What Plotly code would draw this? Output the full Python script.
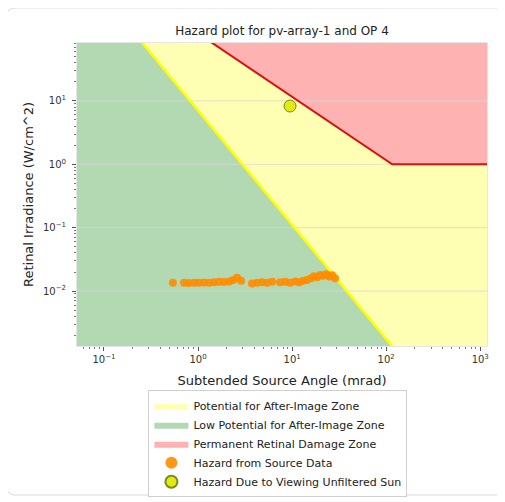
import plotly.graph_objects as go

# ---------------- data ----------------
# threshold curves (retinal irradiance W/cm^2 vs subtended angle mrad)
afterimage_x = [0.05, 1200]
afterimage_y = [1560, 2.0e-5]
burn_x = [0.05, 116, 1200]
burn_y = [2320, 1.0, 1.0]
floor_y = 1e-6
ceil_y = 1e5

# hazard from source data
src_x = [0.54, 0.71, 0.80, 0.91, 1.02, 1.16, 1.31, 1.48, 1.67, 1.89, 2.14, 2.36, 2.60, 2.87,
         3.75, 4.24, 4.80, 5.42, 6.12,
         7.45, 8.43, 9.52, 10.8, 11.9, 13.1, 14.4, 15.9, 17.1, 18.5, 19.9, 21.4, 23.0, 24.8, 26.7, 28.6]
src_y = [0.0136, 0.0135, 0.0134, 0.0136, 0.0135, 0.0137, 0.0136, 0.0138, 0.0140, 0.0139, 0.0142, 0.0150, 0.0162, 0.0146,
         0.0132, 0.0135, 0.0138, 0.0136, 0.0140,
         0.0138, 0.0140, 0.0136, 0.0142, 0.0138, 0.0145, 0.0150, 0.0160, 0.0172, 0.0165, 0.0180, 0.0175, 0.0185, 0.0170, 0.0178, 0.0160]

# unfiltered sun
sun_x = [9.5]
sun_y = [8.3]

x_tickvals = [0.1, 1, 10, 100, 1000]
x_ticktext = ["10<sup>−1</sup>", "10<sup>0</sup>", "10<sup>1</sup>", "10<sup>2</sup>", "10<sup>3</sup>"]
y_tickvals = [0.01, 0.1, 1, 10]
y_ticktext = ["10<sup>−2</sup>", "10<sup>−1</sup>", "10<sup>0</sup>", "10<sup>1</sup>"]
minor_mult = [2, 3, 4, 5, 6, 7, 8, 9]
x_minor = [m * d for d in [0.01, 0.1, 1, 10, 100, 1000] for m in minor_mult]
y_minor = [m * d for d in [0.001, 0.01, 0.1, 1, 10] for m in minor_mult]

x_range = [0.0516, 1180]
y_range = [0.00136, 82]

FONT = "DejaVu Sans"

fig = go.Figure()

# zones
yellow_poly_x = afterimage_x + burn_x[::-1] + [afterimage_x[0]]
yellow_poly_y = afterimage_y + burn_y[::-1] + [afterimage_y[0]]
fig.add_trace(go.Scatter(x=yellow_poly_x, y=yellow_poly_y, fill="toself", mode="lines",
                         line=dict(width=0), fillcolor="#FFFFB3",
                         name="Potential for After-Image Zone", hoverinfo="skip"))
green_poly_x = afterimage_x + [afterimage_x[-1], afterimage_x[0], afterimage_x[0]]
green_poly_y = afterimage_y + [floor_y, floor_y, afterimage_y[0]]
fig.add_trace(go.Scatter(x=green_poly_x, y=green_poly_y, fill="toself", mode="lines",
                         line=dict(width=0), fillcolor="#B3D9B3",
                         name="Low Potential for After-Image Zone", hoverinfo="skip"))
red_poly_x = burn_x + [burn_x[-1], burn_x[0], burn_x[0]]
red_poly_y = burn_y + [ceil_y, ceil_y, burn_y[0]]
fig.add_trace(go.Scatter(x=red_poly_x, y=red_poly_y, fill="toself", mode="lines",
                         line=dict(width=0), fillcolor="#FFB2B2",
                         name="Permanent Retinal Damage Zone", hoverinfo="skip"))

# grid lines above fills
gx, gy = [], []
for g in y_tickvals:
    gx += [x_range[0], x_range[1], None]
    gy += [g, g, None]
fig.add_trace(go.Scatter(x=gx, y=gy, mode="lines", line=dict(color="rgba(215,215,215,0.75)", width=1),
                         showlegend=False, hoverinfo="skip"))

# threshold lines
fig.add_trace(go.Scatter(x=afterimage_x, y=afterimage_y, mode="lines",
                         line=dict(color="#FFFF00", width=2.5), showlegend=False, hoverinfo="skip"))
fig.add_trace(go.Scatter(x=burn_x, y=burn_y, mode="lines",
                         line=dict(color="#D81010", width=2), showlegend=False, hoverinfo="skip"))

# data
fig.add_trace(go.Scatter(x=src_x, y=src_y, mode="markers",
                         marker=dict(color="#FF8C00", size=8, opacity=0.9, line=dict(width=0)),
                         name="Hazard from Source Data"))
fig.add_trace(go.Scatter(x=sun_x, y=sun_y, mode="markers",
                         marker=dict(color="#E2EA10", size=12, line=dict(color="#7A8A20", width=1)),
                         name="Hazard Due to Viewing Unfiltered Sun"))

axis_common = dict(type="log", automargin=False,
                   ticks="outside", ticklen=4, tickcolor="#555", tickfont=dict(size=10, color="#333"),
                   showline=True, linecolor="#e6e6e6", mirror=True, zeroline=False, showgrid=False)

fig.update_xaxes(range=[-1.287, 3.072], tickvals=x_tickvals, ticktext=x_ticktext,
                 minor=dict(tickvals=x_minor, ticks="outside", ticklen=2, tickcolor="#777", showgrid=False),
                 title=dict(text="Subtended Source Angle (mrad)", font=dict(size=13, color="#222"), standoff=11),
                 **axis_common)
fig.update_yaxes(range=[-2.866, 1.913], tickvals=y_tickvals, ticktext=y_ticktext,
                 minor=dict(tickvals=y_minor, ticks="outside", ticklen=2, tickcolor="#777", showgrid=False),
                 ticklabelstandoff=4,
                 title=dict(text="Retinal Irradiance (W/cm^2)", font=dict(size=13, color="#222"), standoff=6),
                 **axis_common)

# card frame
x0, x1 = -0.1707, 1.1
yt, yb = 1.1155, -0.4917
rx, ry = 0.0195, 0.0264
path = (f"M {x0+rx},{yt} L {x1},{yt} L {x1},{yb} L {x0+rx},{yb} "
        f"Q {x0},{yb} {x0},{yb+ry} L {x0},{yt-ry} Q {x0},{yt} {x0+rx},{yt} Z")
fig.add_shape(type="path", path=path, xref="paper", yref="paper",
              line=dict(color="#d9d9d9", width=1), layer="below")

fig.update_layout(
    width=497, height=494,
    margin=dict(l=69, r=18, t=35, b=156, autoexpand=False),
    paper_bgcolor="white", plot_bgcolor="white",
    font=dict(family=FONT, color="#222"),
    title=dict(text="Hazard plot for pv-array-1 and OP 4", x=(69 + 205) / 497, xanchor="center",
               y=1 - 23 / 494, yanchor="middle", yref="container", automargin=False,
               font=dict(size=12, color="#222")),
    legend=dict(x=0.49, xanchor="center", y=-0.146, yanchor="top", orientation="v",
                bgcolor="white", bordercolor="#d0d0d0", borderwidth=1, itemsizing="constant",
                itemwidth=34, font=dict(size=11, color="#222"), tracegroupgap=0),
    showlegend=True,
)

fig.write_html("out.html")
